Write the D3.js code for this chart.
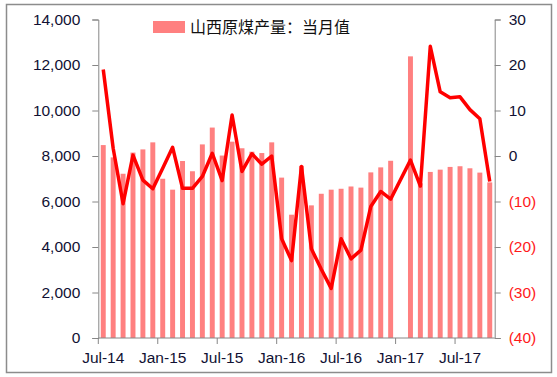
<!DOCTYPE html>
<html>
<head>
<meta charset="utf-8">
<script src="https://cdn.jsdelivr.net/npm/d3@7"></script>
<style>
  body { margin: 0; background: #fff; }
  svg { display: block; font-family: "Liberation Sans", Arial, sans-serif; }
  .axis path, .axis line { stroke: #868686; }
  .axis text { font-size: 15.5px; fill: #111133; }
</style>
</head>
<body>
<svg></svg>
<script>
const WIDTH = 557;
const HEIGHT = 377;
const MARGIN = { top: 19.5, right: 62.3, bottom: 39, left: 98.3 };

const months = [
  "Jul-14", "Aug-14", "Sep-14", "Oct-14", "Nov-14", "Dec-14",
  "Jan-15", "Feb-15", "Mar-15", "Apr-15", "May-15", "Jun-15",
  "Jul-15", "Aug-15", "Sep-15", "Oct-15", "Nov-15", "Dec-15",
  "Jan-16", "Feb-16", "Mar-16", "Apr-16", "May-16", "Jun-16",
  "Jul-16", "Aug-16", "Sep-16", "Oct-16", "Nov-16", "Dec-16",
  "Jan-17", "Feb-17", "Mar-17", "Apr-17", "May-17", "Jun-17",
  "Jul-17", "Aug-17", "Sep-17", "Oct-17"
];

// 山西原煤产量：当月值 (万吨), Jan-17 reported together with Feb-17
const output = [
  8480, 7940, 7220, 8150, 8290, 8600,
  7000, 6520, 7780, 7330, 8510, 9250,
  8020, 8630, 8340, 8190, 8130, 8600,
  7050, 5420, 7570, 5830, 6340, 6520,
  6560, 6660, 6610, 7280, 7500, 7790,
  null, 12380, 6800, 7300, 7400, 7520,
  7550, 7460, 7270, 6840
];

// 同比 (%), right axis
const growth = [
  19.0, 1.7, -10.5, 0.2, -5.3, -7.2,
  -2.7, 1.9, -7.1, -7.1, -4.5, 0.6,
  -5.4, 9.0, -3.4, 0.5, -1.8, 0.0,
  -18.2, -23.0, -2.3, -20.4, -24.9, -29.1,
  -18.2, -22.6, -20.7, -11.1, -7.8, -9.5,
  null, -0.9, -6.6, 24.1, 14.1, 12.8,
  13.0, 10.2, 8.2, -5.6
];

const xTicks = ["Jul-14", "Jan-15", "Jul-15", "Jan-16", "Jul-16", "Jan-17", "Jul-17"];
const leftTicks = [0, 2000, 4000, 6000, 8000, 10000, 12000, 14000];
const rightTicks = [-40, -30, -20, -10, 0, 10, 20, 30];
const legendLabel = "山西原煤产量：当月值";

const svg = d3.select("svg").attr("width", WIDTH).attr("height", HEIGHT);

// outer frame
svg.append("rect")
  .attr("x", 6.5).attr("y", 4.5)
  .attr("width", 545).attr("height", 368)
  .attr("fill", "none").attr("stroke", "#8c8c8c").attr("stroke-width", 1.5);

const plotLeft = MARGIN.left;
const plotRight = WIDTH - MARGIN.right;
const plotTop = MARGIN.top;
const plotBottom = HEIGHT - MARGIN.bottom;

const x = d3.scaleBand().domain(months).range([plotLeft, plotRight])
  .paddingInner(0.5).paddingOuter(0.25);
const step = x.step();
const cx = (m) => x(m) + x.bandwidth() / 2;

const yL = d3.scaleLinear().domain([0, 14000]).range([plotBottom, plotTop]);
const yR = d3.scaleLinear().domain([-40, 30]).range([plotBottom, plotTop]);

const rows = months.map((m, i) => ({ month: m, output: output[i], growth: growth[i] }));

// bars
svg.append("g").selectAll("rect")
  .data(rows.filter((d) => d.output != null))
  .join("rect")
  .attr("x", (d) => x(d.month))
  .attr("width", x.bandwidth())
  .attr("y", (d) => yL(d.output))
  .attr("height", (d) => yL(0) - yL(d.output))
  .attr("fill", "#ff8080");

// left axis
const gL = svg.append("g").attr("class", "axis")
  .attr("transform", `translate(${plotLeft},0)`)
  .call(d3.axisLeft(yL).tickValues(leftTicks).tickFormat(d3.format(",")).tickSizeOuter(0).tickSize(6).tickPadding(12));

// right axis
const gR = svg.append("g").attr("class", "axis")
  .attr("transform", `translate(${plotRight},0)`)
  .call(d3.axisRight(yR).tickValues(rightTicks)
    .tickFormat((d) => (d < 0 ? `(${-d})` : `${d}`))
    .tickSizeOuter(0).tickSize(6).tickPadding(8));
gR.selectAll("text").style("fill", (d) => (d < 0 ? "#ff1a1a" : "#111133"));

// bottom axis
const gB = svg.append("g").attr("class", "axis");
gB.append("line")
  .attr("x1", plotLeft).attr("x2", plotRight)
  .attr("y1", plotBottom).attr("y2", plotBottom);
gB.selectAll(".tick")
  .data(xTicks)
  .join("line")
  .attr("class", "tick")
  .attr("x1", (d) => cx(d) - step / 2)
  .attr("x2", (d) => cx(d) - step / 2)
  .attr("y1", plotBottom).attr("y2", plotBottom + 6);
gB.selectAll("text")
  .data(xTicks)
  .join("text")
  .attr("x", (d) => cx(d))
  .attr("y", plotBottom + 25)
  .attr("text-anchor", "middle")
  .text((d) => d);

// line
const line = d3.line()
  .x((d) => cx(d.month))
  .y((d) => yR(d.growth));

svg.append("path")
  .datum(rows.filter((d) => d.growth != null))
  .attr("d", line)
  .attr("fill", "none")
  .attr("stroke", "#ff0000")
  .attr("stroke-width", 3.5)
  .attr("stroke-linejoin", "round");

// legend
const legend = svg.append("g").attr("transform", "translate(153,21)");
legend.append("rect").attr("width", 32).attr("height", 12).attr("fill", "#ff8080");
legend.append("text")
  .attr("x", 37).attr("y", 12)
  .style("font-family", "'Noto Sans CJK SC', sans-serif")
  .style("font-size", "16px")
  .attr("fill", "#111")
  .text(legendLabel);
</script>
</body>
</html>
